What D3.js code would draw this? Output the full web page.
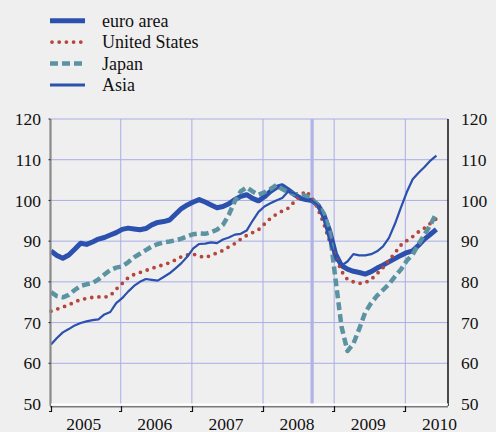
<!DOCTYPE html>
<html>
<head>
<meta charset="utf-8">
<script src="https://cdn.jsdelivr.net/npm/d3@7"></script>
<style>
  body { margin: 0; background: #efefef; }
  svg { display: block; background: #efefef; }
  text { font-family: "Liberation Serif", "Times New Roman", serif; fill: #111; }
</style>
</head>
<body>
<svg id="chart" width="496" height="432"></svg>
<script>
// monthly values, Jan 2005 .. Jun 2010
const euroArea = [
  87.6, 86.5, 85.8, 86.6, 88.0, 89.5, 89.2, 89.8, 90.5, 90.9, 91.5, 92.1,
  92.9, 93.2, 93.0, 92.8, 93.1, 94.0, 94.6, 94.8, 95.2, 96.6, 98.0, 98.9,
  99.6, 100.2, 99.6, 98.9, 98.2, 98.5, 99.2, 100.2, 101.0, 101.4, 100.5, 99.9,
  100.9, 102.2, 103.2, 103.6, 102.6, 101.5, 100.6, 100.2, 100.0, 98.9, 96.5, 92.5,
  86.8, 84.0, 83.1, 82.6, 82.3, 81.9, 82.5, 83.4, 84.1, 84.9, 85.7, 86.5,
  87.2, 87.6, 89.0, 90.5, 91.7, 92.9
];
const unitedStates = [
  72.8, 73.3, 73.8, 74.4, 75.0, 75.7, 75.9, 76.2, 76.3, 76.2, 76.6, 78.2,
  79.6, 81.0, 81.8, 82.3, 82.8, 83.3, 83.8, 84.2, 84.7, 85.4, 86.2, 86.6,
  86.8, 86.3, 86.0, 86.5, 87.1, 87.7, 88.6, 89.4, 90.5, 91.4, 92.1, 92.8,
  94.2, 95.6, 96.6, 97.4, 98.1, 99.6, 101.1, 102.3, 100.7, 98.0, 94.3, 90.0,
  86.2, 82.6, 80.6, 80.0, 79.6, 79.8, 80.6, 82.0, 83.5, 85.3, 87.1, 89.0,
  90.1, 91.1, 92.3, 93.2, 94.4, 95.5
];
const japan = [
  77.5, 76.5, 76.2, 76.8, 78.0, 79.0, 79.4, 79.7, 80.6, 81.8, 82.9, 83.5,
  83.8, 84.8, 86.0, 86.9, 87.8, 88.7, 89.3, 89.7, 89.9, 90.2, 90.6, 91.2,
  91.7, 91.9, 91.8, 92.2, 92.8, 94.0, 96.5, 99.8, 102.2, 103.2, 102.2, 101.4,
  102.0, 102.8, 103.8, 102.8, 102.0, 101.6, 101.5, 101.1, 100.3, 99.0, 96.8, 92.5,
  80.5, 69.0, 63.0, 64.8, 68.5, 72.5, 74.8, 76.6, 78.0, 79.4, 81.3, 83.0,
  85.2, 86.7, 89.3, 91.6, 94.0, 96.9
];
const asia = [
  64.6, 66.2, 67.6, 68.4, 69.3, 69.9, 70.3, 70.6, 70.8, 72.0, 72.6, 74.8,
  76.0, 77.6, 79.0, 80.0, 80.7, 80.5, 80.3, 81.2, 82.1, 83.3, 84.6, 86.2,
  88.2, 89.3, 89.4, 89.7, 89.5, 90.4, 90.9, 91.6, 91.8, 92.6, 95.0, 97.2,
  98.5, 99.3, 100.0, 100.6, 102.2, 101.8, 100.8, 100.3, 100.0, 98.8, 95.2, 90.0,
  85.6, 84.0, 85.0, 86.8, 86.5, 86.5, 86.8, 87.5, 88.7, 90.8, 94.2, 98.2,
  102.0, 105.2, 106.8, 108.2, 109.8, 111.0
];
const years = [2005, 2006, 2007, 2008, 2009, 2010];
const yTicks = [50, 60, 70, 80, 90, 100, 110, 120];
const eventDate = 2008.69; // vertical marker, Sept 2008

const series = [
  { name: "euro area", values: euroArea, color: "#2b50ae", width: 5, dash: null, cap: "butt" },
  { name: "United States", values: unitedStates, color: "#b6463b", width: 3.8, dash: "0,7.2", cap: "round" },
  { name: "Japan", values: japan, color: "#5b93a3", width: 4.5, dash: "8,4", cap: "butt" },
  { name: "Asia", values: asia, color: "#2b50ae", width: 2.2, dash: null, cap: "butt" }
];

const plotLeft = 51, plotRight = 448, plotTop = 119, plotBottom = 404;

const svg = d3.select("#chart");

const x = d3.scaleLinear().domain([2005.02, 2010.6]).range([plotLeft, plotRight]);
const y = d3.scaleLinear().domain([50, 120]).range([plotBottom, plotTop]);

const monthPos = i => x(2005.02 + i / 12);

// grid
const grid = svg.append("g");
grid.selectAll(".hgrid")
  .data(yTicks.filter(d => d > 50))
  .enter()
  .append("line")
  .attr("x1", plotLeft)
  .attr("x2", plotRight)
  .attr("y1", d => y(d))
  .attr("y2", d => y(d))
  .attr("stroke", "#a9ade6")
  .attr("stroke-width", 1);

grid.selectAll(".vgrid")
  .data(years.slice(1))
  .enter()
  .append("line")
  .attr("x1", d => x(d))
  .attr("x2", d => x(d))
  .attr("y1", plotTop)
  .attr("y2", plotBottom)
  .attr("stroke", "#a9ade6")
  .attr("stroke-width", 1);

// event marker
svg.append("line")
  .attr("x1", x(eventDate))
  .attr("x2", x(eventDate))
  .attr("y1", plotTop)
  .attr("y2", plotBottom)
  .attr("stroke", "#afb3e5")
  .attr("stroke-width", 3.2);

// series lines
const line = d3.line()
  .x((d, i) => monthPos(i))
  .y(d => y(d));

series.forEach(s => {
  svg.append("path")
    .datum(s.values)
    .attr("d", line)
    .attr("fill", "none")
    .attr("stroke", s.color)
    .attr("stroke-width", s.width)
    .attr("stroke-dasharray", s.dash)
    .attr("stroke-linecap", s.cap)
    .attr("stroke-linejoin", "round");
});

// axes
svg.append("line")
  .attr("x1", plotLeft - 0.5)
  .attr("x2", plotLeft - 0.5)
  .attr("y1", plotTop)
  .attr("y2", plotBottom + 2)
  .attr("stroke", "#8a8a8a")
  .attr("stroke-width", 2.2);

svg.selectAll(".ltick")
  .data(yTicks.filter(d => d > 50))
  .enter()
  .append("line")
  .attr("x1", plotLeft - 2.5)
  .attr("x2", plotLeft - 0.5)
  .attr("y1", d => y(d))
  .attr("y2", d => y(d))
  .attr("stroke", "#222")
  .attr("stroke-width", 1);

svg.append("line")
  .attr("x1", plotRight)
  .attr("x2", plotRight)
  .attr("y1", plotTop)
  .attr("y2", plotBottom + 2)
  .attr("stroke", "#111")
  .attr("stroke-width", 1.5);

svg.append("line")
  .attr("x1", plotLeft)
  .attr("x2", plotRight)
  .attr("y1", plotBottom + 0.5)
  .attr("y2", plotBottom + 0.5)
  .attr("stroke", "#ffffff")
  .attr("stroke-width", 2);

svg.append("line")
  .attr("x1", plotLeft - 1)
  .attr("x2", plotRight)
  .attr("y1", plotBottom + 2.8)
  .attr("y2", plotBottom + 2.8)
  .attr("stroke", "#7a7a7a")
  .attr("stroke-width", 1.5);

svg.selectAll(".xtick")
  .data(years)
  .enter()
  .append("path")
  .attr("d", d => {
    const px = Math.round(Math.max(x(d), plotLeft)) + 0.5;
    return `M${px},${plotBottom + 2} V${plotBottom + 7.5} H${px - 2.5}`;
  })
  .attr("fill", "none")
  .attr("stroke", "#111")
  .attr("stroke-width", 1.2);

// tick labels
svg.selectAll(".ylabL")
  .data(yTicks)
  .enter()
  .append("text")
  .attr("x", 41)
  .attr("y", d => y(d))
  .attr("dy", "0.35em")
  .attr("text-anchor", "end")
  .style("font-size", "17.5px")
  .text(d => d);

svg.selectAll(".ylabR")
  .data(yTicks)
  .enter()
  .append("text")
  .attr("x", 461)
  .attr("y", d => y(d))
  .attr("dy", "0.35em")
  .attr("text-anchor", "start")
  .style("font-size", "17.5px")
  .text(d => d);

svg.selectAll(".xlab")
  .data(years)
  .enter()
  .append("text")
  .attr("x", d => x(d + 0.5) - 1.5)
  .attr("y", 430)
  .attr("text-anchor", "middle")
  .style("font-size", "17.5px")
  .text(d => d);

// legend
const legend = svg.append("g");
series.forEach((s, i) => {
  const ly = 20.7 + i * 21.4;
  legend.append("line")
    .attr("x1", s.cap === "round" ? 52 : 50)
    .attr("x2", 85)
    .attr("y1", ly)
    .attr("y2", ly)
    .attr("stroke", s.color)
    .attr("stroke-width", s.name === "Asia" ? 3 : s.width)
    .attr("stroke-dasharray", s.dash)
    .attr("stroke-linecap", s.cap);
  legend.append("text")
    .attr("x", 102)
    .attr("y", ly + 6.3)
    .style("font-size", "18px")
    .text(s.name);
});
</script>
</body>
</html>
